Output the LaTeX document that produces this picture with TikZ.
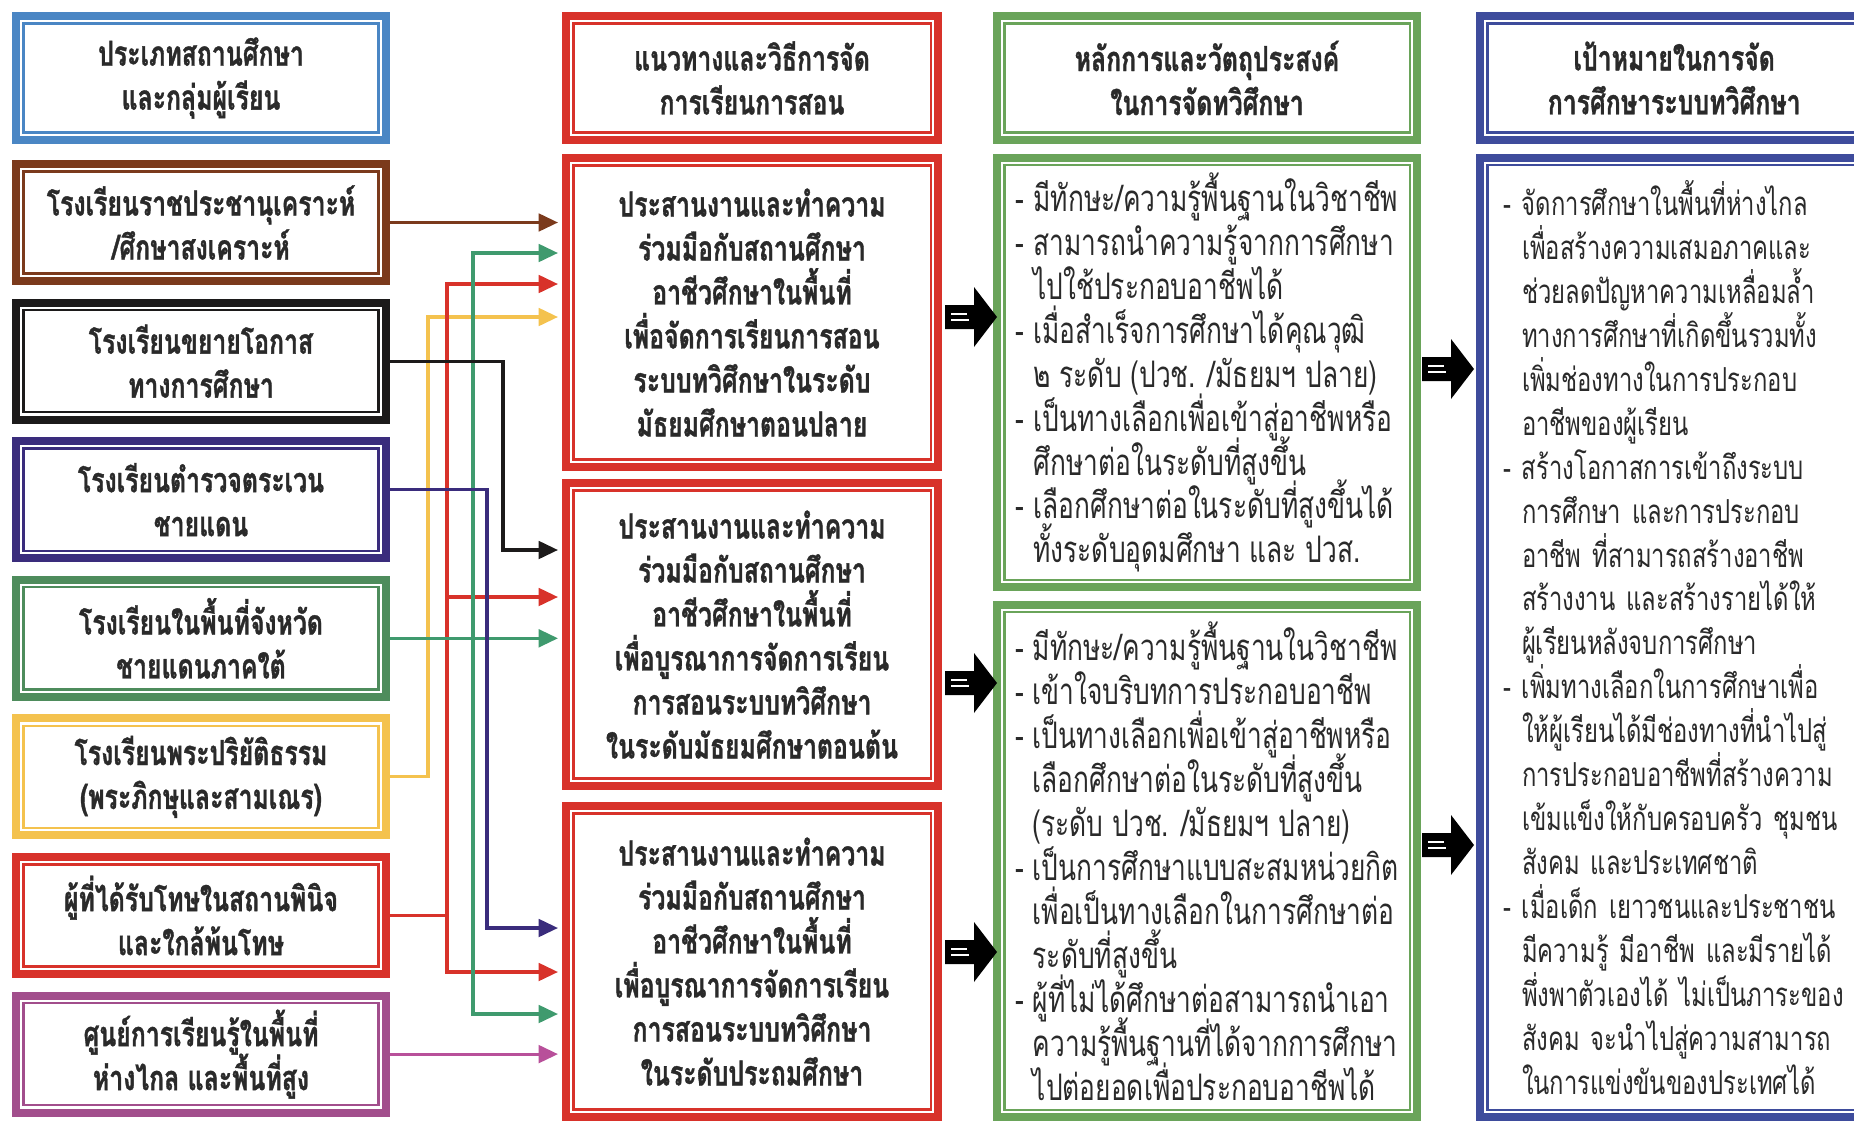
\documentclass[tikz,border=0pt]{standalone}
\usepackage{fontspec}
\newfontfamily\thaifont[Script=Thai,FakeStretch=0.72,BoldFeatures={FakeBold=1}]{Loma}
\usetikzlibrary{arrows.meta}

\definecolor{cBlue}{HTML}{4A86C4}
\definecolor{cBrown}{HTML}{7B3A1C}
\definecolor{cBlack}{HTML}{1C1A1A}
\definecolor{cIndigo}{HTML}{3A2C7C}
\definecolor{cGreen}{HTML}{4E8C5C}
\definecolor{cYellow}{HTML}{F4C24E}
\definecolor{cRed}{HTML}{D8322A}
\definecolor{cMagenta}{HTML}{A24E8C}
\definecolor{cLeaf}{HTML}{6AA45A}
\definecolor{cNavy}{HTML}{3E4C9C}
\definecolor{cTeal}{HTML}{3F9A6E}
\definecolor{cPink}{HTML}{B8509A}
\definecolor{cInk}{HTML}{2A2A2A}

\newcommand{\dashpad}{\hphantom{-\ }}
\newcommand{\tightlines}{\lineskiplimit=-20pt\relax}

\begin{document}
\begin{tikzpicture}[x=0.01cm,y=-0.01cm,
  colbox/.style={draw=#1,line width=2.3pt,fill=white,inner sep=0pt,align=center,text=cInk,
    path picture={\draw[#1,line width=0.7pt]
      ([shift={(2.1pt,2.1pt)}]path picture bounding box.south west) rectangle
      ([shift={(-2.1pt,-2.1pt)}]path picture bounding box.north east);}},
  boldtext/.style={font=\thaifont\bfseries\fontsize{9.8}{12.5}\selectfont\tightlines},
  plaintext/.style={font=\thaifont\fontsize{10.4}{12.5}\selectfont\tightlines},
  typbox/.style={colbox=#1,boldtext,minimum width=3.70cm,minimum height=1.17cm},
  midbox/.style={colbox=cRed,boldtext,minimum width=3.72cm},
  leafbox/.style={colbox=cLeaf,plaintext,align=left,minimum width=4.20cm},
  navybox/.style={colbox=cNavy,font=\thaifont\fontsize{9.4}{12.5}\selectfont\tightlines,
    align=left,text width=3.9cm,inner xsep=0.23cm},
  conn/.style={draw=#1,line width=0.9pt,-{Triangle[length=5.5pt,width=5pt]},shorten >=1.1pt},
  link/.style={draw=#1,line width=0.9pt}]

\useasboundingbox (0,0) rectangle (1854,1124);
\fill[white] (0,0) rectangle (1854,1124);

% column heads
\node[colbox=cBlue,boldtext,minimum width=3.70cm,minimum height=1.24cm] (hd1) at (201,78)
  {ประเภทสถานศึกษา\\และกลุ่มผู้เรียน};
\node[midbox,minimum height=1.24cm] (hd2) at (752,78)
  {แนวทางและวิธีการจัด\\การเรียนการสอน};
\node[colbox=cLeaf,boldtext,minimum width=4.20cm,minimum height=1.24cm] (hd3) at (1207,78)
  {หลักการและวัตถุประสงค์\\ในการจัดทวิศึกษา};
\node[colbox=cNavy,boldtext,minimum width=3.88cm,minimum height=1.24cm,anchor=west] (hd4) at (1476,78)
  {เป้าหมายในการจัด\\การศึกษาระบบทวิศึกษา};

% types of schools and learners
\foreach \i/\clr/\txt in {
  1/cBrown/{โรงเรียนราชประชานุเคราะห์\\/ศึกษาสงเคราะห์},
  2/cBlack/{โรงเรียนขยายโอกาส\\ทางการศึกษา},
  3/cIndigo/{โรงเรียนตำรวจตระเวน\\ชายแดน},
  4/cGreen/{โรงเรียนในพื้นที่จังหวัด\\ชายแดนภาคใต้},
  5/cYellow/{โรงเรียนพระปริยัติธรรม\\(พระภิกษุและสามเณร)},
  6/cRed/{ผู้ที่ได้รับโทษในสถานพินิจ\\และใกล้พ้นโทษ},
  7/cMagenta/{ศูนย์การเรียนรู้ในพื้นที่\\ห่างไกล และพื้นที่สูง}}
  {\node[typbox=\clr] (typ\i) at (201,{222.5+138.6*(\i-1)}) {\txt};}

% ways of teaching
\node[midbox,minimum height=3.09cm] (mid1) at (752,312.5)
  {ประสานงานและทำความ\\ร่วมมือกับสถานศึกษา\\อาชีวศึกษาในพื้นที่\\เพื่อจัดการเรียนการสอน\\ระบบทวิศึกษาในระดับ\\มัธยมศึกษาตอนปลาย};
\node[midbox,minimum height=3.03cm] (mid2) at (752,634.5)
  {ประสานงานและทำความ\\ร่วมมือกับสถานศึกษา\\อาชีวศึกษาในพื้นที่\\เพื่อบูรณาการจัดการเรียน\\การสอนระบบทวิศึกษา\\ในระดับมัธยมศึกษาตอนต้น};
\node[midbox,minimum height=3.11cm] (mid3) at (752,961.5)
  {ประสานงานและทำความ\\ร่วมมือกับสถานศึกษา\\อาชีวศึกษาในพื้นที่\\เพื่อบูรณาการจัดการเรียน\\การสอนระบบทวิศึกษา\\ในระดับประถมศึกษา};

% principles
\node[leafbox,minimum height=4.29cm] (prin1) at (1207,372.5)
  {- มีทักษะ/ความรู้พื้นฐานในวิชาชีพ\\
   - สามารถนำความรู้จากการศึกษา\\
   \dashpad ไปใช้ประกอบอาชีพได้\\
   - เมื่อสำเร็จการศึกษาได้คุณวุฒิ\\
   \dashpad ๒ ระดับ (ปวช. /มัธยมฯ ปลาย)\\
   - เป็นทางเลือกเพื่อเข้าสู่อาชีพหรือ\\
   \dashpad ศึกษาต่อในระดับที่สูงขึ้น\\
   - เลือกศึกษาต่อในระดับที่สูงขึ้นได้\\
   \dashpad ทั้งระดับอุดมศึกษา และ ปวส.};
\node[leafbox,minimum height=5.12cm] (prin2) at (1207,861)
  {- มีทักษะ/ความรู้พื้นฐานในวิชาชีพ\\
   - เข้าใจบริบทการประกอบอาชีพ\\
   - เป็นทางเลือกเพื่อเข้าสู่อาชีพหรือ\\
   \dashpad เลือกศึกษาต่อในระดับที่สูงขึ้น\\
   \dashpad (ระดับ ปวช. /มัธยมฯ ปลาย)\\
   - เป็นการศึกษาแบบสะสมหน่วยกิต\\
   \dashpad เพื่อเป็นทางเลือกในการศึกษาต่อ\\
   \dashpad ระดับที่สูงขึ้น\\
   - ผู้ที่ไม่ได้ศึกษาต่อสามารถนำเอา\\
   \dashpad ความรู้พื้นฐานที่ได้จากการศึกษา\\
   \dashpad ไปต่อยอดเพื่อประกอบอาชีพได้};

% goals
\node[navybox,minimum height=9.59cm,anchor=west] (goal) at (1476,637.5)
  {- จัดการศึกษาในพื้นที่ห่างไกล\\
   \dashpad เพื่อสร้างความเสมอภาคและ\\
   \dashpad ช่วยลดปัญหาความเหลื่อมล้ำ\\
   \dashpad ทางการศึกษาที่เกิดขึ้นรวมทั้ง\\
   \dashpad เพิ่มช่องทางในการประกอบ\\
   \dashpad อาชีพของผู้เรียน\\
   - สร้างโอกาสการเข้าถึงระบบ\\
   \dashpad การศึกษา และการประกอบ\\
   \dashpad อาชีพ ที่สามารถสร้างอาชีพ\\
   \dashpad สร้างงาน และสร้างรายได้ให้\\
   \dashpad ผู้เรียนหลังจบการศึกษา\\
   - เพิ่มทางเลือกในการศึกษาเพื่อ\\
   \dashpad ให้ผู้เรียนได้มีช่องทางที่นำไปสู่\\
   \dashpad การประกอบอาชีพที่สร้างความ\\
   \dashpad เข้มแข็งให้กับครอบครัว ชุมชน\\
   \dashpad สังคม และประเทศชาติ\\
   - เมื่อเด็ก เยาวชนและประชาชน\\
   \dashpad มีความรู้ มีอาชีพ และมีรายได้\\
   \dashpad พึ่งพาตัวเองได้ ไม่เป็นภาระของ\\
   \dashpad สังคม จะนำไปสู่ความสามารถ\\
   \dashpad ในการแข่งขันของประเทศได้};

% turning points of the connectors
\coordinate (yc) at (428,317);
\coordinate (bc) at (503,550);
\coordinate (pc) at (487,928);
\coordinate (gj) at (typ4.east -| 473,0);
\coordinate (rj) at (typ6.east -| 447,0);

\draw[conn=cBrown] (typ1.east) -- (mid1.west |- typ1.east);
\draw[conn=cYellow] (typ5.east) -| (yc) -- (mid1.west |- yc);
\draw[link=cRed] (typ6.east) -- (rj);
\draw[conn=cRed] (rj) |- (mid1.west |- 0,284);
\draw[conn=cRed] (rj) |- (mid2.west |- 0,597);
\draw[conn=cRed] (rj) |- (mid3.west |- 0,972);
\draw[conn=cTeal] (gj) |- (mid1.west |- 0,253);
\draw[conn=cTeal] (gj) |- (mid3.west |- 0,1014);
\draw[conn=cTeal] (typ4.east) -- (mid2.west |- typ4.east);
\draw[conn=cBlack] (typ2.east) -| (bc) -- (mid2.west |- bc);
\draw[conn=cIndigo] ([yshift=3pt]typ3.east) -| (pc) -- (mid3.west |- pc);
\draw[conn=cPink] (typ7.east) -- (mid3.west |- typ7.east);

% block arrows between the columns
\foreach \xa/\y in {945/317,945/683,945/952,1422/369,1422/845}
  {\fill[black] (\xa,\y-12) -- (\xa+29,\y-12) -- (\xa+29,\y-30) -- (\xa+52,\y)
     -- (\xa+29,\y+30) -- (\xa+29,\y+12) -- (\xa,\y+12) -- cycle;
   \draw[white,line width=0.4pt] (\xa+6,\y-3) -- (\xa+22,\y-3) (\xa+6,\y+3) -- (\xa+24,\y+3);}
\end{tikzpicture}
\end{document}
